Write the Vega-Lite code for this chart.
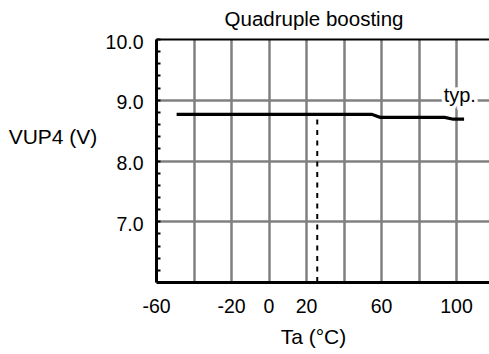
{
  "$schema": "https://vega.github.io/schema/vega-lite/v6.json",
  "width": 333,
  "height": 243,
  "autosize": "none",
  "padding": {"left": 156, "top": 39, "right": 0, "bottom": 72},
  "background": "white",
  "config": {"view": {"stroke": null}, "font": "Liberation Sans"},
  "title": {"text": "Quadruple boosting", "fontSize": 20.5, "fontWeight": "normal", "color": "black", "baseline": "alphabetic", "offset": -14, "dx": -8.5, "frame": "group"},
  "datasets": {
    "curve": [
      {"x": -49, "y": 8.76},
      {"x": 55, "y": 8.76},
      {"x": 59.5, "y": 8.71},
      {"x": 94, "y": 8.71},
      {"x": 98.5, "y": 8.68},
      {"x": 104.3, "y": 8.68}
    ],
    "marker": [{"x": 26, "y": 6, "y2": 8.71}],
    "note": [{"x": 102, "y": 8.96, "label": "typ."}]
  },
  "encoding": {
    "x": {
      "field": "x", "type": "quantitative",
      "scale": {"domain": [-60, 117.6], "nice": false, "zero": false},
      "axis": {
        "values": [-60, -40, -20, 0, 20, 40, 60, 80, 100],
        "ticks": false,
        "domainColor": "black", "domainWidth": 3,
        "grid": true, "gridColor": "#808080", "gridWidth": 2.5,
        "labelExpr": "indexof([-40, 40, 80], datum.value) >= 0 ? '' : '' + datum.value",
        "labelFontSize": 19.5, "labelColor": "black", "labelBaseline": "alphabetic",
        "labelPadding": 30, "labelFlush": false, "labelOverlap": false,
        "title": "Ta (°C)", "titleFontSize": 21, "titleFontWeight": "normal", "titleColor": "black",
        "titleBaseline": "alphabetic", "titleAlign": "center", "titleX": 157, "titleY": 61
      }
    },
    "y": {
      "field": "y", "type": "quantitative",
      "scale": {"domain": [6, 10], "nice": false, "zero": false},
      "axis": {
        "values": [6.2, 6.4, 6.6, 6.8, 7, 7.2, 7.4, 7.6, 7.8, 8, 8.2, 8.4, 8.6, 8.8, 9, 9.2, 9.4, 9.6, 9.8, 10],
        "tickSize": -4, "tickWidth": 2, "tickColor": "black",
        "domainColor": "black", "domainWidth": 3,
        "grid": true,
        "gridColor": {"condition": {"test": "datum.value > 9.99", "value": "black"}, "value": "#808080"},
        "gridWidth": {"condition": {"test": "datum.value > 9.99", "value": 2}, "value": 2.5},
        "gridOpacity": {"condition": {"test": "abs(datum.value - round(datum.value)) < 0.01", "value": 1}, "value": 0},
        "labelExpr": "abs(datum.value - round(datum.value)) < 0.01 ? format(datum.value, '.1f') : ''",
        "labelFontSize": 19.5, "labelColor": "black", "labelBaseline": "alphabetic", "labelOffset": 9,
        "labelPadding": 17, "labelFlush": false, "labelOverlap": false,
        "title": "VUP4 (V)", "titleFontSize": 21, "titleFontWeight": "normal", "titleColor": "black",
        "titleAngle": 0, "titleAlign": "center", "titleBaseline": "alphabetic", "titleX": -103.5, "titleY": 104
      }
    }
  },
  "layer": [
    {
      "data": {"name": "marker"},
      "mark": {"type": "rule", "color": "black", "strokeWidth": 2, "strokeDash": [5, 5.5]},
      "encoding": {"y2": {"field": "y2"}}
    },
    {
      "data": {"name": "curve"},
      "mark": {"type": "line", "color": "black", "strokeWidth": 3.2},
      "encoding": {}
    },
    {
      "data": {"name": "note"},
      "mark": {"type": "text", "fontSize": 20, "align": "center", "baseline": "alphabetic", "color": "white", "stroke": "white", "strokeWidth": 7},
      "encoding": {"text": {"field": "label"}}
    },
    {
      "data": {"name": "note"},
      "mark": {"type": "text", "fontSize": 20, "align": "center", "baseline": "alphabetic", "color": "black"},
      "encoding": {"text": {"field": "label"}}
    }
  ]
}
